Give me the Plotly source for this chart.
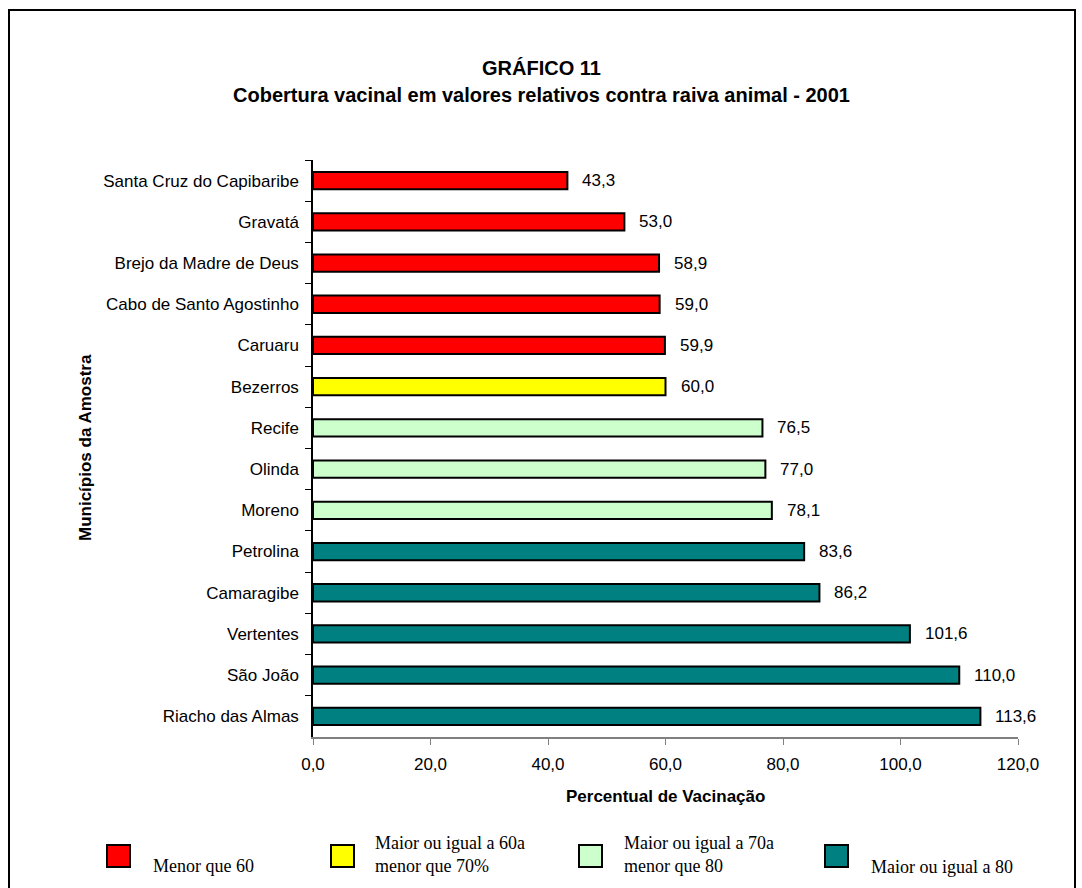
import plotly.graph_objects as go

municipios = [
    "Santa Cruz do Capibaribe", "Gravatá", "Brejo da Madre de Deus",
    "Cabo de Santo Agostinho", "Caruaru", "Bezerros", "Recife", "Olinda",
    "Moreno", "Petrolina", "Camaragibe", "Vertentes", "São João",
    "Riacho das Almas",
]
cobertura = [43.3, 53.0, 58.9, 59.0, 59.9, 60.0, 76.5, 77.0, 78.1, 83.6,
             86.2, 101.6, 110.0, 113.6]
faixas = ["<60", "<60", "<60", "<60", "<60", "60-70", "70-80", "70-80",
          "70-80", ">=80", ">=80", ">=80", ">=80", ">=80"]

cores_faixa = {"<60": "#FF0000", "60-70": "#FFFF00", "70-80": "#CCFFCC",
               ">=80": "#008080"}
legenda = [
    ("<60", "Menor que 60"),
    ("60-70", "Maior ou igual a 60a<br>menor que 70%"),
    ("70-80", "Maior ou igual a 70a<br>menor que 80"),
    (">=80", "Maior ou igual a 80"),
]
x_ticks = [0, 20, 40, 60, 80, 100, 120]

W, H = 1082, 888
L, R, T, B = 313, 64, 160, 151
PW, PH = W - L - R, H - T - B


def px_x(x):
    return (x - L) / PW


def px_y(y):
    return (H - B - y) / PH


fig = go.Figure()
fig.add_trace(go.Bar(
    y=municipios, x=cobertura, orientation="h",
    marker=dict(color=[cores_faixa[f] for f in faixas],
                line=dict(color="#000000", width=2)),
    width=0.42, showlegend=False, hoverinfo="x+y",
))

annotations = []
for m, v in zip(municipios, cobertura):
    annotations.append(dict(
        x=v, y=m, xref="x", yref="y", xanchor="left", yanchor="middle",
        xshift=13, showarrow=False,
        text=f"{v:.1f}".replace(".", ","),
        font=dict(family="Arial", size=17, color="#000000"),
    ))

# Title (two lines)
annotations.append(dict(
    x=px_x(541), y=px_y(68), xref="paper", yref="paper", xanchor="center",
    yanchor="middle", showarrow=False, text="<b>GRÁFICO 11</b>",
    font=dict(family="Arial", size=20, color="#000000"),
))
annotations.append(dict(
    x=px_x(541), y=px_y(95), xref="paper", yref="paper",
    xanchor="center", yanchor="middle", showarrow=False,
    text="<b>Cobertura vacinal em valores relativos contra raiva animal - 2001</b>",
    font=dict(family="Arial", size=20, color="#000000"),
))

# Axis titles
annotations.append(dict(
    x=px_x(85), y=px_y(447), xref="paper", yref="paper", xanchor="center",
    yanchor="middle", showarrow=False, textangle=-90,
    text="<b>Municípios da Amostra</b>",
    font=dict(family="Arial", size=17, color="#000000"),
))
annotations.append(dict(
    x=px_x(665), y=px_y(796), xref="paper", yref="paper", xanchor="center",
    yanchor="middle", showarrow=False, text="<b>Percentual de Vacinação</b>",
    font=dict(family="Arial", size=17, color="#000000"),
))

shapes = [dict(
    type="rect", xref="paper", yref="paper",
    x0=px_x(9), x1=px_x(1075), y0=px_y(905), y1=px_y(10),
    line=dict(color="#000000", width=2), fillcolor="rgba(0,0,0,0)",
    layer="below",
)]

# Legend boxes and labels
leg_box_x = [107, 331, 579, 825]
leg_text = [(151, 866), (373, 854), (622, 854), (869, 867)]
for (key, label), bx, (tx, ty) in zip(legenda, leg_box_x, leg_text):
    shapes.append(dict(
        type="rect", xref="paper", yref="paper",
        x0=px_x(bx), x1=px_x(bx + 23), y0=px_y(867), y1=px_y(845),
        fillcolor=cores_faixa[key], line=dict(color="#000000", width=2),
    ))
    annotations.append(dict(
        x=px_x(tx), y=px_y(ty), xref="paper", yref="paper",
        xanchor="left", yanchor="middle", align="left", showarrow=False,
        text=label,
        font=dict(family="Liberation Serif", size=18, color="#000000"),
    ))

fig.update_layout(
    width=W, height=H,
    margin=dict(l=L, r=R, t=T, b=B, autoexpand=False),
    paper_bgcolor="#FFFFFF", plot_bgcolor="#FFFFFF",
    separators=",.",
    bargap=0.58,
    annotations=annotations, shapes=shapes,
    xaxis=dict(
        range=[0, 120], tickvals=x_ticks, tickformat=".1f",
        showgrid=False, zeroline=False, showline=True, linecolor="#808080",
        linewidth=1.5, ticks="outside", ticklen=6, tickcolor="#808080",
        ticklabelstandoff=5,
        tickfont=dict(family="Arial", size=17, color="#000000"),
    ),
    yaxis=dict(
        categoryorder="array", categoryarray=municipios,
        autorange="reversed", showgrid=False, zeroline=False,
        showline=True, linecolor="#000000", linewidth=1.5,
        ticks="outside", ticklen=6, tickcolor="#000000",
        tickson="boundaries", ticklabelstandoff=9,
        tickfont=dict(family="Arial", size=17, color="#000000"),
    ),
    font=dict(family="Arial", color="#000000"),
)

fig.write_html("out.html")
